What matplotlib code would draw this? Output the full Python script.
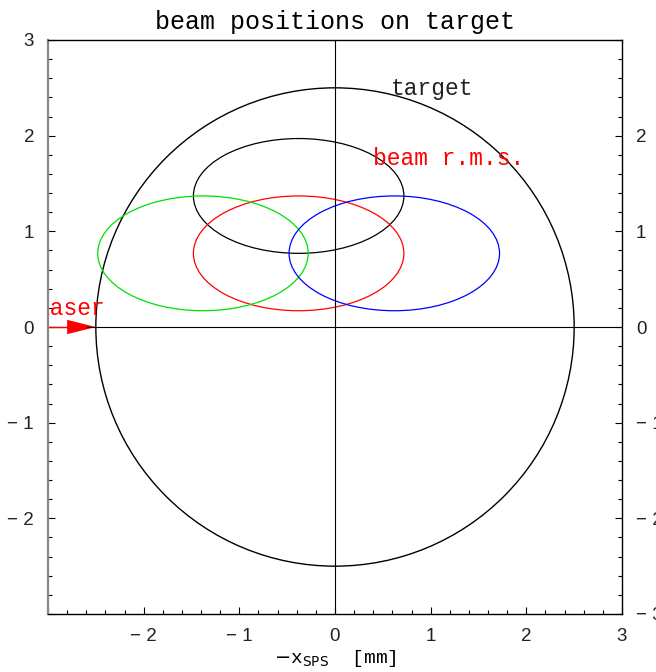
import numpy as np
import matplotlib
matplotlib.use("Agg")
import matplotlib.pyplot as plt
from matplotlib.patches import Ellipse, Circle
from matplotlib.ticker import MultipleLocator

# data
target_radius = 2.5
beam_centers_x = [-0.38, -0.38, -1.38, 0.62]
beam_centers_y = [1.37, 0.77, 0.77, 0.77]
beam_colors = ["black", "red", "#00e000", "blue"]
beam_width = 2.2
beam_height = 1.2
ticks = [-3, -2, -1, 0, 1, 2, 3]
tick_labels = ["\u2212 3", "\u2212 2", "\u2212 1", "0", "1", "2", "3"]

mono = "Liberation Mono"
sans = "Liberation Sans"

fig = plt.figure(figsize=(6.56, 6.72), dpi=100)
ax = fig.add_axes([48/656, 58/672, 574/656, 574/672])
ax.set_xlim(-3, 3)
ax.set_ylim(-3, 3)

ax.axhline(0, color="black", lw=0.8)
ax.axvline(0, color="black", lw=0.8)

ax.add_patch(Circle((0, 0), target_radius, fill=False, ec="black", lw=1.0))
for cx, cy, c in zip(beam_centers_x, beam_centers_y, beam_colors):
    ax.add_patch(Ellipse((cx, cy), beam_width, beam_height, fill=False, ec=c, lw=0.9))

# laser arrow
ax.plot([-3, -2.6], [0, 0], color="red", lw=1.0)
ax.fill([-2.8, -2.5, -2.8], [0.075, 0, -0.075], color="red", lw=0)
ax.text(-3.13, 0.19, "laser", color="red", family=mono, fontsize=16.5,
        ha="left", va="center", clip_on=True)

ax.text(0.58, 2.49, "target", color="#222222", family=mono, fontsize=16.5,
        ha="left", va="center")
ax.text(0.40, 1.76, "beam r.m.s.", color="red", family=mono, fontsize=16.5,
        ha="left", va="center")

ax.set_title("beam positions on target", family=mono, fontsize=18, pad=8)
ax.set_xlabel(r"$-$x$_{\mathrm{SPS}}$  [mm]", family=mono, fontsize=14, labelpad=2)

ax.set_xticks(ticks)
ax.set_xticklabels(tick_labels, family=sans, fontsize=13.5, color="#222222")
ax.set_yticks(ticks)
ax.set_yticklabels(tick_labels, family=sans, fontsize=13.5, color="#222222")
ax.xaxis.set_minor_locator(MultipleLocator(0.2))
ax.yaxis.set_minor_locator(MultipleLocator(0.2))
ax.tick_params(which="major", direction="in", length=5, width=0.8,
               right=True, labelright=True, pad=10, color="black")
ax.tick_params(which="minor", direction="in", length=3, width=0.8, right=True)
ax.tick_params(axis="y", which="major", pad=10)
ax.tick_params(axis="x", which="both", top=False)

# hide corner labels as in reference
xt = ax.xaxis.get_major_ticks()
xt[0].label1.set_visible(False)
yt = ax.yaxis.get_major_ticks()
yt[0].label1.set_visible(False)
yt[-1].label2.set_visible(False)

for s in ax.spines.values():
    s.set_linewidth(1.0)
ax.spines["left"].set_color("#888888")
ax.spines["left"].set_linewidth(1.6)

fig.savefig("out.png", dpi=100)
